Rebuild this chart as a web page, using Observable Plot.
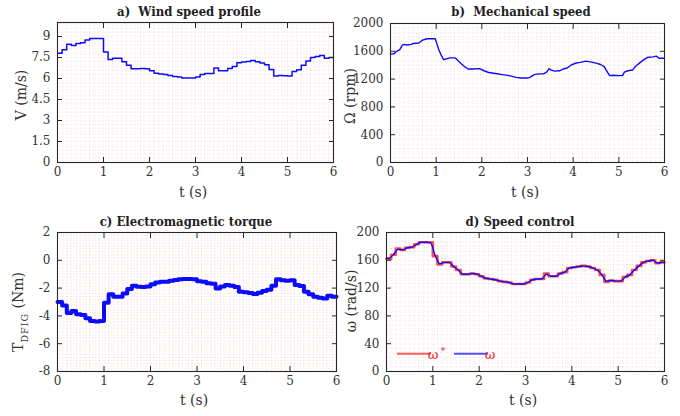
<!DOCTYPE html>
<html><head><meta charset="utf-8">
<script src="https://cdn.jsdelivr.net/npm/d3@7"></script>
<script src="https://cdn.jsdelivr.net/npm/@observablehq/plot@0.6"></script>
<style>
body{margin:0;background:#fff;}
#wrap{position:relative;width:680px;height:416px;overflow:hidden;background:#fff;}
.panel{position:absolute;}
</style></head><body><div id="wrap"></div>
<script>
const FONT = "'DejaVu Serif', 'Liberation Serif', serif";
const TFONT = "'DejaVu Serif Condensed', 'DejaVu Serif', serif";

// ---- data ----
const tStep = [0,0.1,0.2,0.3,0.4,0.5,0.6,0.7,0.8,0.9,1.0,1.1,1.2,1.3,1.4,1.5,1.6,1.7,1.8,1.9,2.0,2.1,2.2,2.3,2.4,2.5,2.6,2.7,2.8,2.9,3.0,3.1,3.2,3.3,3.4,3.5,3.6,3.7,3.8,3.9,4.0,4.1,4.2,4.3,4.4,4.5,4.6,4.7,4.8,4.9,5.0,5.1,5.2,5.3,5.4,5.5,5.6,5.7,5.8,5.9,6.0];

const windSpeed = [7.8,8.05,8.45,8.35,8.5,8.55,8.75,8.85,8.85,8.85, 7.9,7.35,7.45,7.45,7.2,6.95,6.7,6.7,6.72,6.7, 6.55,6.38,6.32,6.28,6.22,6.15,6.1,6.04,6.04,6.04, 6.1,6.28,6.35,6.35,6.75,6.55,6.55,6.72,6.85,7.12, 7.18,7.22,7.28,7.2,7.1,6.98,6.65,6.18,6.22,6.2, 6.18,6.5,6.62,6.95,7.25,7.5,7.58,7.64,7.45,7.5, 7.5];

const torque = [-3.0,-3.25,-3.8,-3.65,-3.88,-3.93,-4.17,-4.36,-4.41,-4.36, -3.05,-2.45,-2.62,-2.62,-2.38,-2.07,-1.83,-1.9,-1.92,-1.88, -1.73,-1.6,-1.54,-1.54,-1.47,-1.42,-1.37,-1.35,-1.35,-1.37, -1.5,-1.54,-1.66,-1.68,-2.02,-1.88,-1.78,-1.83,-1.92,-2.26, -2.3,-2.35,-2.42,-2.33,-2.21,-2.11,-1.83,-1.37,-1.44,-1.47, -1.44,-1.78,-1.85,-2.26,-2.45,-2.62,-2.69,-2.74,-2.55,-2.62, -2.62];

const omegaRef = [162,168,177,175,178,179,183,186,186,186, 166,154,157,157,151,146,140,140,141,140, 137,134,133,132,130,129,128,126,126,126, 128,132,133,133,141,137,137,141,143,149, 150,151,152,151,149,146,139,129,131,130, 130,136,139,146,152,157,159,160,156,157, 157];

const omegaT = [0,0.05,0.15,0.25,0.35,0.45,0.55,0.65,0.75,0.85,0.95,1.05,1.15,1.25,1.35,1.45,1.55,1.65,1.75,1.85,1.95,2.05,2.15,2.25,2.35,2.45,2.55,2.65,2.75,2.85,2.95,3.05,3.15,3.25,3.35,3.45,3.55,3.65,3.75,3.85,3.95,4.05,4.15,4.25,4.35,4.45,4.55,4.65,4.75,4.85,4.95,5.05,5.15,5.25,5.35,5.45,5.55,5.65,5.75,5.85,5.95,6.0];
const omega = [163, 163,168,176,175,178,179,183,186,186,185, 167,155,157,157,151,146,140,140,141,140, 137,134,133,132,130,129,128,126,126,126, 128,132,133,133,140,137,137,141,143,149, 150,151,152,151,149,146,139,130,131,130, 130,136,139,146,152,157,159,160,156,157, 157];

const mechT = [0,0.08,0.13,0.2,0.26,0.3,0.36,0.45,0.5,0.62,0.7,0.8,0.98,1.02,1.06,1.1,1.16,1.22,1.3,1.42,1.47,1.55,1.62,1.7,1.8,1.95,2.05,2.15,2.3,2.45,2.6,2.75,2.85,3.0,3.05,3.15,3.25,3.35,3.42,3.47,3.52,3.6,3.7,3.78,3.87,3.95,4.05,4.15,4.28,4.4,4.5,4.6,4.68,4.75,4.8,4.88,5.0,5.08,5.12,5.2,5.3,5.36,5.45,5.55,5.62,5.75,5.82,5.88,6.0];
const mechSpeed = [1560,1565,1600,1620,1690,1700,1690,1700,1712,1720,1760,1780,1780,1700,1620,1560,1482,1490,1505,1505,1470,1420,1380,1345,1345,1350,1320,1295,1280,1265,1250,1225,1215,1215,1225,1265,1275,1275,1300,1350,1330,1315,1320,1345,1360,1400,1428,1440,1458,1445,1430,1410,1380,1300,1250,1255,1250,1250,1300,1320,1330,1380,1430,1480,1510,1520,1530,1500,1500];

const xTicks = [0,1,2,3,4,5,6];
const yTicksA = [0,1.5,3,4.5,6,7.5,9];
const yTicksB = [0,400,800,1200,1600,2000];
const yTicksC = [-8,-6,-4,-2,0,2];
const yTicksD = [0,40,80,120,160,200];

const stepRows = tStep.map((t,i) => ({t, v: windSpeed[i], T: torque[i], wr: omegaRef[i]}));
const mechRows = mechT.map((t,i) => ({t, w: mechSpeed[i]}));
const omegaRows = omegaT.map((t,i) => ({t, w: omega[i]}));

const GRID = "#f2b3b3";
const BLUE = "#0b0bff";

function panel(cfg) {
  const gridOpts = {stroke: GRID, strokeOpacity: 0.55, strokeWidth: 0.8, strokeDasharray: "1,2.2"};
  const svg = Plot.plot({
    width: 340, height: 208,
    marginLeft: cfg.ml, marginRight: cfg.mr, marginTop: cfg.mt, marginBottom: cfg.mb,
    x: {domain: [0, 6]},
    y: {domain: cfg.yDomain},
    style: {fontFamily: FONT, fontSize: "12px", color: "#333", background: "transparent", overflow: "visible"},
    marks: [
      Plot.gridX(d3.range(0, 6.0001, 0.1), gridOpts),
      Plot.gridY(d3.range(cfg.yDomain[0], cfg.yDomain[1] + 1e-9, cfg.yMinor), gridOpts),
      ...cfg.marks,
      Plot.frame({stroke: "#262626", strokeWidth: 1.1}),
      Plot.axisX({anchor: "bottom", ticks: xTicks, tickSize: -5, tickPadding: 10, label: null, tickFormat: d => String(d), stroke: "#262626"}),
      Plot.axisX({anchor: "top", ticks: xTicks, tickSize: -5, label: null, tickFormat: () => "", stroke: "#262626"}),
      Plot.axisY({anchor: "left", ticks: cfg.yTicks, tickSize: -5, tickPadding: 12, label: null, tickFormat: d => String(d), stroke: "#262626"}),
      Plot.axisY({anchor: "right", ticks: cfg.yTicks, tickSize: -5, label: null, tickFormat: () => "", stroke: "#262626"})
    ]
  });
  const s = d3.select(svg);
  s.append("text").attr("x", cfg.title[1]).attr("y", cfg.title[2])
    .attr("text-anchor", "middle").attr("font-family", TFONT).attr("font-size", 13)
    .attr("font-weight", "bold").attr("fill", "#222").text(cfg.title[0]);
  s.append("text").attr("x", cfg.xl[0]).attr("y", cfg.xl[1])
    .attr("text-anchor", "middle").attr("font-family", FONT).attr("font-size", 14)
    .attr("fill", "#333").text("t (s)");
  const yl = s.append("text").attr("transform", `translate(${cfg.yl[0]},${cfg.yl[1]}) rotate(-90)`)
    .attr("text-anchor", "middle").attr("font-family", FONT).attr("font-size", 14).attr("fill", "#333");
  cfg.ylabel(yl);
  if (cfg.extra) cfg.extra(s);
  const div = document.createElement("div");
  div.className = "panel";
  div.style.left = cfg.left + "px";
  div.style.top = cfg.top + "px";
  div.appendChild(svg);
  document.getElementById("wrap").appendChild(div);
}

panel({
  left: 0, top: 0, ml: 57, mr: 7, mt: 22, mb: 46,
  yDomain: [0, 10], yTicks: yTicksA, yMinor: 0.3,
  title: ["a)  Wind speed profile", 189, 16], xl: [193, 197], yl: [26, 95],
  ylabel: t => t.text("V (m/s)"),
  marks: [Plot.line(stepRows, {x: "t", y: "v", curve: "step-after", stroke: BLUE, strokeWidth: 1.5})]
});

panel({
  left: 340, top: 0, ml: 50, mr: 16, mt: 23, mb: 46,
  yDomain: [0, 2000], yTicks: yTicksB, yMinor: 66.6667,
  title: ["b)  Mechanical speed", 181, 16], xl: [185, 197], yl: [15, 96],
  ylabel: t => t.text("Ω (rpm)"),
  marks: [Plot.line(mechRows, {x: "t", y: "w", stroke: BLUE, strokeWidth: 1.4})]
});

panel({
  left: 0, top: 208, ml: 57, mr: 4, mt: 24, mb: 45,
  yDomain: [-8, 2], yTicks: yTicksC, yMinor: 0.2,
  title: ["c) Electromagnetic torque", 186, 18], xl: [194, 197], yl: [23, 104],
  ylabel: t => {
    t.append("tspan").text("T");
    t.append("tspan").attr("font-size", 9.5).attr("dy", 5).attr("letter-spacing", 1).text("DFIG");
    t.append("tspan").attr("dy", -5).text(" (Nm)");
  },
  marks: [Plot.line(stepRows, {x: "t", y: "T", curve: "step-after", stroke: BLUE, strokeWidth: 4})]
});

panel({
  left: 340, top: 208, ml: 46, mr: 16, mt: 24, mb: 45,
  yDomain: [0, 200], yTicks: yTicksD, yMinor: 6.6667,
  title: ["d) Speed control", 180, 18], xl: [183, 197], yl: [16, 93],
  ylabel: t => t.text("ω (rad/s)"),
  marks: [
    Plot.line(stepRows, {x: "t", y: "wr", curve: "step-after", stroke: "#ff4d4d", strokeWidth: 2.6}),
    Plot.line(omegaRows, {x: "t", y: "w", curve: "monotone-x", stroke: BLUE, strokeWidth: 1.4})
  ],
  extra: s => {
    const g = s.append("g");
    g.append("line").attr("x1", 57).attr("x2", 91).attr("y1", 145.7).attr("y2", 145.7).attr("stroke", "#ff5a5a").attr("stroke-width", 2);
    g.append("text").attr("x", 93).attr("y", 151).attr("font-family", FONT).attr("font-size", 13).attr("fill", "#ee2222").text("ω");
    g.append("text").attr("x", 103).attr("y", 146).attr("font-family", FONT).attr("font-size", 9).attr("fill", "#ee2222").text("*");
    g.append("line").attr("x1", 114).attr("x2", 148).attr("y1", 145.7).attr("y2", 145.7).attr("stroke", "#5050ff").attr("stroke-width", 2);
    g.append("text").attr("x", 150).attr("y", 151).attr("font-family", FONT).attr("font-size", 13).attr("fill", "#ee2222").text("ω");
  }
});
</script>
</body></html>
